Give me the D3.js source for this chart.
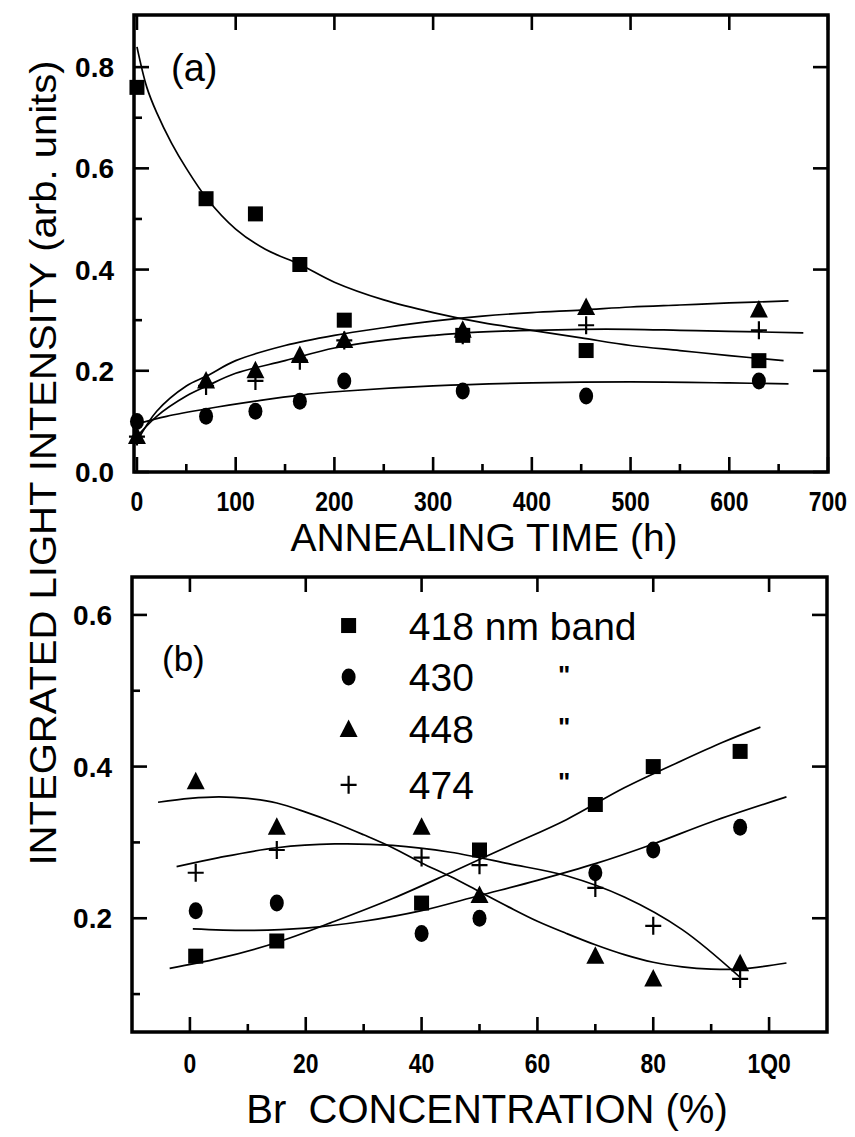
<!DOCTYPE html>
<html><head><meta charset="utf-8">
<script src="https://cdn.jsdelivr.net/npm/d3@7"></script>
<style>body{margin:0;background:#fff}svg{display:block}</style>
</head><body>
<svg id="c" width="855" height="1137"></svg>
<script>
// ---------- Panel (a): annealing time ----------
const timeA = [0, 70, 120, 165, 210, 330, 455, 630];
const a418 = [0.76, 0.54, 0.51, 0.41, 0.30, 0.27, 0.24, 0.22];
const a430 = [0.10, 0.11, 0.12, 0.14, 0.18, 0.16, 0.15, 0.18];
const a448 = [0.07, 0.18, 0.20, 0.23, 0.26, 0.28, 0.325, 0.32];
const a474 = [0.07, 0.17, 0.18, 0.22, 0.26, 0.27, 0.29, 0.28];
// fitted curves [time, intensity]
const fitA418 = [[0,0.84],[10,0.76],[20,0.71],[35,0.65],[50,0.60],[71,0.54],[100,0.48],[130,0.44],[165,0.41],[200,0.375],[250,0.34],[300,0.315],[350,0.295],[400,0.28],[450,0.265],[500,0.25],[550,0.24],[600,0.23],[655,0.22]];
const fitA430 = [[0,0.095],[30,0.11],[71,0.125],[120,0.14],[165,0.152],[212,0.16],[300,0.17],[400,0.176],[500,0.178],[600,0.176],[660,0.174]];
const fitA448 = [[0,0.06],[20,0.12],[50,0.17],[71,0.19],[100,0.22],[150,0.25],[200,0.27],[250,0.285],[300,0.298],[350,0.308],[400,0.315],[450,0.32],[500,0.326],[550,0.33],[600,0.334],[660,0.338]];
const fitA474 = [[0,0.07],[20,0.11],[50,0.15],[71,0.17],[100,0.195],[150,0.22],[200,0.245],[250,0.26],[300,0.27],[332,0.275],[400,0.28],[450,0.282],[500,0.282],[550,0.28],[600,0.278],[675,0.275]];
const ticksAx = [0,100,200,300,400,500,600,700];
const minorAx = [50,150,250,350,450,550,650];
const ticksAy = [0.0,0.2,0.4,0.6,0.8];
const minorAy = [0.1,0.3,0.5,0.7];

// ---------- Panel (b): Br concentration ----------
const brB = [1, 15, 40, 50, 70, 80, 95];
const b418 = [0.15, 0.17, 0.22, 0.29, 0.35, 0.40, 0.42];
const b430 = [0.21, 0.22, 0.18, 0.20, 0.26, 0.29, 0.32];
const b448 = [0.38, 0.32, 0.32, 0.23, 0.15, 0.12, 0.14];
const b474 = [0.26, 0.29, 0.28, 0.27, 0.24, 0.19, 0.12];
const fitB418 = [[-3.5,0.134],[5,0.147],[15,0.168],[25,0.196],[35,0.226],[45,0.26],[55,0.295],[65,0.33],[75,0.372],[85,0.408],[92,0.432],[98.5,0.452]];
const fitB430 = [[0.5,0.186],[10,0.184],[20,0.187],[30,0.196],[40,0.21],[50,0.23],[60,0.25],[70,0.272],[80,0.298],[90,0.327],[103,0.36]];
const fitB448 = [[-5.5,0.353],[0,0.358],[5,0.36],[10,0.358],[15,0.352],[20,0.34],[25,0.326],[30,0.31],[35,0.293],[40,0.273],[45,0.255],[50,0.235],[55,0.215],[60,0.196],[65,0.18],[70,0.165],[75,0.152],[80,0.142],[85,0.136],[90,0.133],[95,0.133],[103,0.141]];
const fitB474 = [[-2.3,0.268],[5,0.28],[15,0.293],[25,0.298],[35,0.296],[45,0.287],[55,0.272],[65,0.256],[75,0.228],[85,0.185],[95,0.122]];
const ticksBx = [0,20,40,60,80,100];
const tickLabelsBx = ["0","20","40","60","80","1Q0"];
const minorBx = [10,30,50,70,90];
const ticksBy = [0.2,0.4,0.6];
const minorBy = [0.1,0.3,0.5];

const legendLabels = ["418 nm band","430","448","474"];
const legendDitto = ["","\"","\"","\""];

const svg = d3.select("#c");
const FONT = "'Liberation Sans', Arial, Helvetica, sans-serif";

function panel(o){
  const g = svg.append("g");
  const x = d3.scaleLinear().domain(o.xd).range([o.left,o.right]);
  const y = d3.scaleLinear().domain(o.yd).range([o.bottom,o.top]);
  g.append("rect").attr("x",o.left).attr("y",o.top).attr("width",o.right-o.left).attr("height",o.bottom-o.top)
    .attr("fill","none").attr("stroke","#000").attr("stroke-width",3.5);
  const T=15, t=8;
  const tick=(x1,y1,x2,y2)=>g.append("line").attr("x1",x1).attr("y1",y1).attr("x2",x2).attr("y2",y2).attr("stroke","#000").attr("stroke-width",2.6);
  o.xt.forEach(v=>{ tick(x(v),o.bottom,x(v),o.bottom-T); tick(x(v),o.top,x(v),o.top+T); });
  o.xm.forEach(v=>tick(x(v),o.bottom,x(v),o.bottom-t));
  o.yt.forEach(v=>{ tick(o.left,y(v),o.left+T,y(v)); tick(o.right,y(v),o.right-T,y(v)); });
  o.ym.forEach(v=>tick(o.left,y(v),o.left+t,y(v)));
  o.xt.forEach((v,i)=>{
    g.append("text").attr("x",x(v)).attr("y",o.xLabY).attr("text-anchor","middle")
      .attr("font-family",FONT).attr("font-size",27).attr("font-weight","bold")
      .attr("transform",`translate(${x(v)},0) scale(0.85,1) translate(${-x(v)},0)`)
      .text(o.xtl ? o.xtl[i] : String(v));
  });
  o.yt.forEach(v=>{
    g.append("text").attr("x",o.left-20).attr("y",y(v)).attr("dy","0.36em").attr("text-anchor","end")
      .attr("font-family",FONT).attr("font-size",28).attr("font-weight","bold")
      .text(v.toFixed(1));
  });
  const line = d3.line().x(d=>x(d[0])).y(d=>y(d[1])).curve(d3.curveCatmullRom.alpha(0.5));
  o.fits.forEach(f=>{
    g.append("path").attr("d",line(f)).attr("fill","none").attr("stroke","#000").attr("stroke-width",1.7);
  });
  return {g,x,y};
}

function marker(g, type, cx, cy){
  if(type==="sq"){
    g.append("rect").attr("x",cx-7.5).attr("y",cy-7.5).attr("width",15).attr("height",15).attr("fill","#000");
  } else if(type==="ci"){
    g.append("ellipse").attr("cx",cx).attr("cy",cy).attr("rx",7).attr("ry",8.5).attr("fill","#000");
  } else if(type==="tr"){
    g.append("path").attr("d",`M${cx},${cy-10}L${cx+9},${cy+7.5}L${cx-9},${cy+7.5}Z`).attr("fill","#000");
  } else {
    g.append("path").attr("d",`M${cx-8},${cy}H${cx+8}M${cx},${cy-9}V${cy+9}`).attr("stroke","#000").attr("stroke-width",2.2).attr("fill","none");
  }
}

// Panel a
const A = panel({left:134,right:828,top:15,bottom:472,xd:[-3,700],yd:[0,0.903],
  xt:ticksAx,xm:minorAx,yt:ticksAy,ym:minorAy,xLabY:511,
  fits:[fitA418,fitA430,fitA448,fitA474]});
[[a418,"sq"],[a430,"ci"],[a448,"tr"],[a474,"pl"]].forEach(([arr,tp])=>{
  arr.forEach((v,i)=>marker(A.g,tp,A.x(timeA[i]),A.y(v)));
});
A.g.append("text").attr("x",171).attr("y",81).attr("font-family",FONT).attr("font-size",38).text("(a)");
svg.append("text").attr("x",484).attr("y",551).attr("text-anchor","middle")
  .attr("font-family",FONT).attr("font-size",39).text("ANNEALING TIME (h)");

// Panel b
const B = panel({left:132,right:827,top:577,bottom:1032,xd:[-10,110],yd:[0.05,0.65],
  xt:ticksBx,xtl:tickLabelsBx,xm:minorBx,yt:ticksBy,ym:minorBy,xLabY:1073,
  fits:[fitB418,fitB430,fitB448,fitB474]});
[[b418,"sq"],[b430,"ci"],[b448,"tr"],[b474,"pl"]].forEach(([arr,tp])=>{
  arr.forEach((v,i)=>marker(B.g,tp,B.x(brB[i]),B.y(v)));
});
B.g.append("text").attr("x",162).attr("y",671).attr("font-family",FONT).attr("font-size",35).text("(b)");
svg.append("text").attr("x",487).attr("y",1123).attr("text-anchor","middle")
  .attr("font-family",FONT).attr("font-size",40).text("Br\u00a0\u00a0CONCENTRATION (%)");

// legend
const legTypes = ["sq","ci","tr","pl"];
const legY = [0.586,0.518,0.449,0.376];
legTypes.forEach((tp,i)=>{
  const yy = B.y(legY[i]);
  marker(B.g,tp,B.x(27.4),yy);
  B.g.append("text").attr("x",B.x(37.8)).attr("y",yy).attr("dy","0.36em")
    .attr("font-family",FONT).attr("font-size",39).text(legendLabels[i]);
  if(legendDitto[i]) B.g.append("text").attr("x",558).attr("y",yy).attr("dy","0.25em")
    .attr("font-family",FONT).attr("font-size",26).attr("font-weight","bold").text(legendDitto[i]);
});

// y title
svg.append("text").attr("transform","translate(56,463) rotate(-90)").attr("text-anchor","middle")
  .attr("font-family",FONT).attr("font-size",36)
  .attr("textLength",805).attr("lengthAdjust","spacingAndGlyphs")
  .text("INTEGRATED LIGHT INTENSITY (arb. units)");
</script>
</body></html>
